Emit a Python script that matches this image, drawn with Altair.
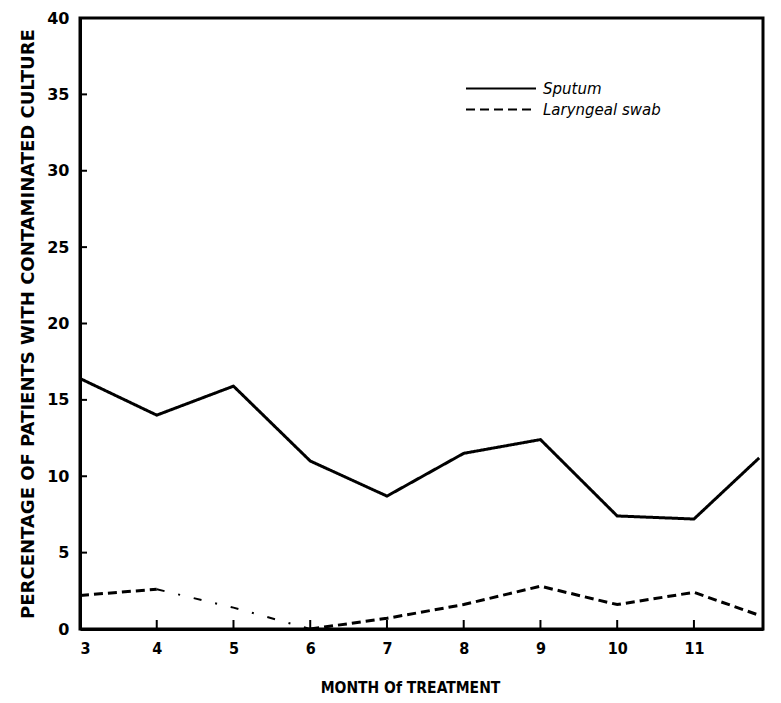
import altair as alt
import pandas as pd

months = [3, 4, 5, 6, 7, 8, 9, 10, 11, 11.85]
sputum = [16.4, 14.0, 15.9, 11.0, 8.7, 11.5, 12.4, 7.4, 7.2, 11.2]
laryngeal = [2.2, 2.6, 1.4, 0.0, 0.7, 1.6, 2.8, 1.6, 2.4, 0.9]
x_ticks = [3, 4, 5, 6, 7, 8, 9, 10, 11]
y_ticks = [0, 5, 10, 15, 20, 25, 30, 35, 40]

rows = []
for m, s in zip(months, sputum):
    rows.append({"month": m, "value": s, "series": "Sputum", "seg": "s"})
for m, l in zip(months, laryngeal):
    if m <= 4:
        rows.append({"month": m, "value": l, "series": "Laryngeal swab", "seg": "a"})
    if m >= 6:
        rows.append({"month": m, "value": l, "series": "Laryngeal swab", "seg": "c"})
df = pd.DataFrame(rows)
df_mid = pd.DataFrame({"month": [m for m in months if 4 <= m <= 6],
                       "value": [l for m, l in zip(months, laryngeal) if 4 <= m <= 6]})

FONT = "DejaVu Sans"
CFONT = "DejaVu Sans Condensed, DejaVu Sans"

xs = alt.Scale(domain=[3, 11.9], nice=False, zero=False)
ys = alt.Scale(domain=[0, 40], nice=False)

lines = alt.Chart(df).mark_line(color="black", strokeWidth=3).encode(
    x=alt.X("month:Q", scale=xs,
            axis=alt.Axis(values=x_ticks, format="d", ticks=False, grid=False, domainWidth=3,
                          domainColor="black", labelFont=CFONT, labelFontSize=16,
                          labelFontWeight="bold", labelColor="black", labelPadding=11,
                          title="MONTH Of TREATMENT", titleFont=CFONT, titleFontSize=15.5,
                          titleFontWeight="bold", titleColor="black", titlePadding=24,
                          titleX=330, titleAlign="center")),
    y=alt.Y("value:Q", scale=ys,
            axis=alt.Axis(values=y_ticks, format="d", ticks=False, grid=False, domainWidth=3,
                          domainColor="black", labelFont=FONT, labelFontSize=16,
                          labelFontWeight="bold", labelColor="black", labelPadding=11,
                          title="PERCENTAGE OF PATIENTS WITH CONTAMINATED CULTURE",
                          titleFont=FONT, titleFontSize=18, titleFontWeight="bold",
                          titleColor="black", titlePadding=9)),
    detail="seg:N",
    strokeDash=alt.StrokeDash("series:N",
        scale=alt.Scale(domain=["Sputum", "Laryngeal swab"], range=[[1, 0], [9, 5]]),
        legend=alt.Legend(title=None, orient="none", legendX=385, legendY=61,
                          symbolType="stroke", symbolSize=4900, symbolStrokeWidth=2,
                          symbolStrokeColor="black", labelFont=FONT,
                          labelFontStyle="italic", labelFontSize=15, labelColor="black",
                          labelOffset=6, rowPadding=2, clipHeight=19)),
)

mid = alt.Chart(df_mid).mark_line(color="black", strokeWidth=2, strokeDash=[8, 14, 2, 14]).encode(
    x=alt.X("month:Q", scale=xs), y=alt.Y("value:Q", scale=ys))

ytick_df = pd.DataFrame({"v": y_ticks[1:-1]})
xtick_df = pd.DataFrame({"m": x_ticks[1:]})
yt = alt.Chart(ytick_df).mark_rule(color="black", strokeWidth=2).encode(
    y=alt.Y("v:Q", scale=ys), x=alt.value(0), x2=alt.value(7))
xt = alt.Chart(xtick_df).mark_rule(color="black", strokeWidth=2).encode(
    x=alt.X("m:Q", scale=xs), y=alt.value(611), y2=alt.value(602))

chart = alt.layer(lines, mid, yt, xt).properties(
    width=683, height=611,
    autosize=alt.AutoSizeParams(type="none"),
    padding={"left": 72, "top": 10, "right": 10, "bottom": 66},
    background="white",
).configure_view(stroke="black", strokeWidth=3)

chart.save("out.html", embed_options={"renderer": "svg", "actions": False})
